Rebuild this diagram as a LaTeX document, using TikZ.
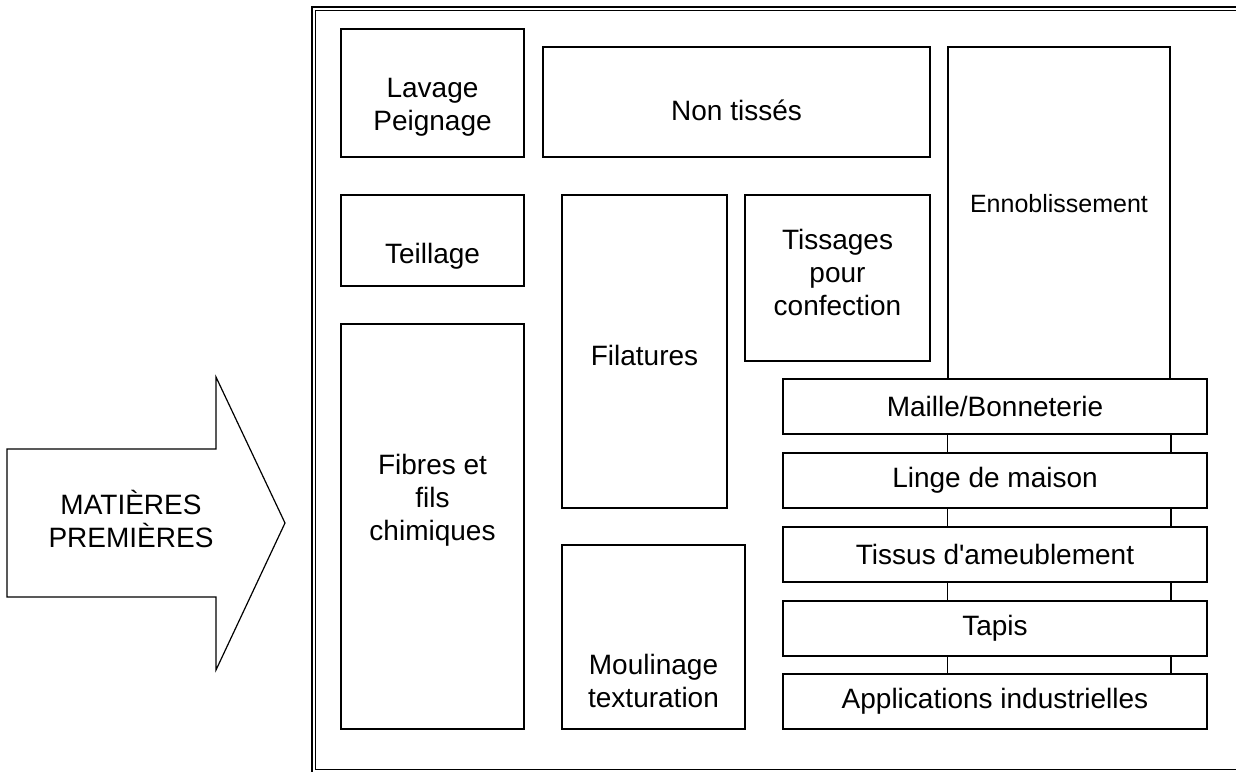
\documentclass[tikz,border=0pt]{standalone}
\usepackage{fontspec}
\setmainfont{Liberation Sans}
\usetikzlibrary{calc}

\begin{document}
\begin{tikzpicture}[
    x = 0.5pt, y = -0.5pt,
    line width = 0.75pt,
    font = \fontsize{14}{16.5}\selectfont,
    box/.style 2 args = {rectangle,
      draw,
      fill = white,
      align = center,
      inner sep = 0pt,
      minimum width = #1*0.5pt,
      minimum height = #2*0.5pt},
    caption/.style = {align = center, inner sep = 0pt}
    ]

    \useasboundingbox (0, 0) rectangle (1236, 771);
    \clip (0, 0) rectangle (1236, 771);

    % double frame, cut by the page on the right and below
    \draw [line width = 1.2pt] (312, 7) rectangle (1246, 774);
    \draw [line width = 0.5pt] (315.5, 10.5) rectangle (1241, 769);

    % the big arrow
    \draw [line width = 0.6pt] (7, 449) -- (216, 449) -- (216, 377)
    -- (285, 523) -- (216, 670) -- (216, 597) -- (7, 597) -- cycle;
    \node at (131, 519) [caption, name = raw] {MATIÈRES\\PREMIÈRES};

    \node at (432.5, 93) [box = {183}{128}, name = lavage,
    label = {[caption, yshift = -7pt]center:Lavage\\Peignage}] {};
    \node at (432.5, 240.5) [box = {183}{91}, name = teillage,
    label = {[caption, yshift = -8pt]center:Teillage}] {};
    \node at (432.5, 526.5) [box = {183}{405}, name = fibres,
    label = {[caption, yshift = 13pt]center:Fibres et\\fils\\chimiques}] {};

    \node at (736.5, 102) [box = {387}{110}, name = nontisses,
    label = {[caption, yshift = -4pt]center:Non tissés}] {};
    \node at (644.5, 351.5) [box = {165}{313}, name = filatures,
    label = {[caption, yshift = -2pt]center:Filatures}] {};
    \node at (837.5, 278) [box = {185}{166}, name = tissages,
    label = {[caption, yshift = 3pt]center:Tissages\\pour\\confection}] {};
    \node at (653.5, 637) [box = {183}{184}, name = moulinage,
    label = {[caption, yshift = -22pt]center:Moulinage\\texturation}] {};

    \node at (1059, 213) [box = {222}{332}, name = ennob,
    label = {[caption, yshift = 4.5pt,
      font = \fontsize{12.5}{15}\selectfont]center:Ennoblissement}] {};

    \node at (995, 406.5) [box = {424}{55}, name = maille] {Maille/Bonneterie};
    \node at (995, 480.5) [box = {424}{55}, name = linge] {Linge de maison};
    \node at (995, 554.5) [box = {424}{55}, name = tissus]
    {Tissus d\textquotesingle ameublement};
    \node at (995, 628.5) [box = {424}{55}, name = tapis] {Tapis};
    \node at (995, 701.5) [box = {424}{55}, name = appli] {Applications industrielles};

    % ennoblissement runs down behind the stack
    \foreach \a/\b in {maille/linge, linge/tissus, tissus/tapis, tapis/appli} {
      \draw (\a.south -| ennob.west) -- (\b.north -| ennob.west);
      \draw (\a.south -| ennob.east) -- (\b.north -| ennob.east);
    }
  \end{tikzpicture}
\end{document}
